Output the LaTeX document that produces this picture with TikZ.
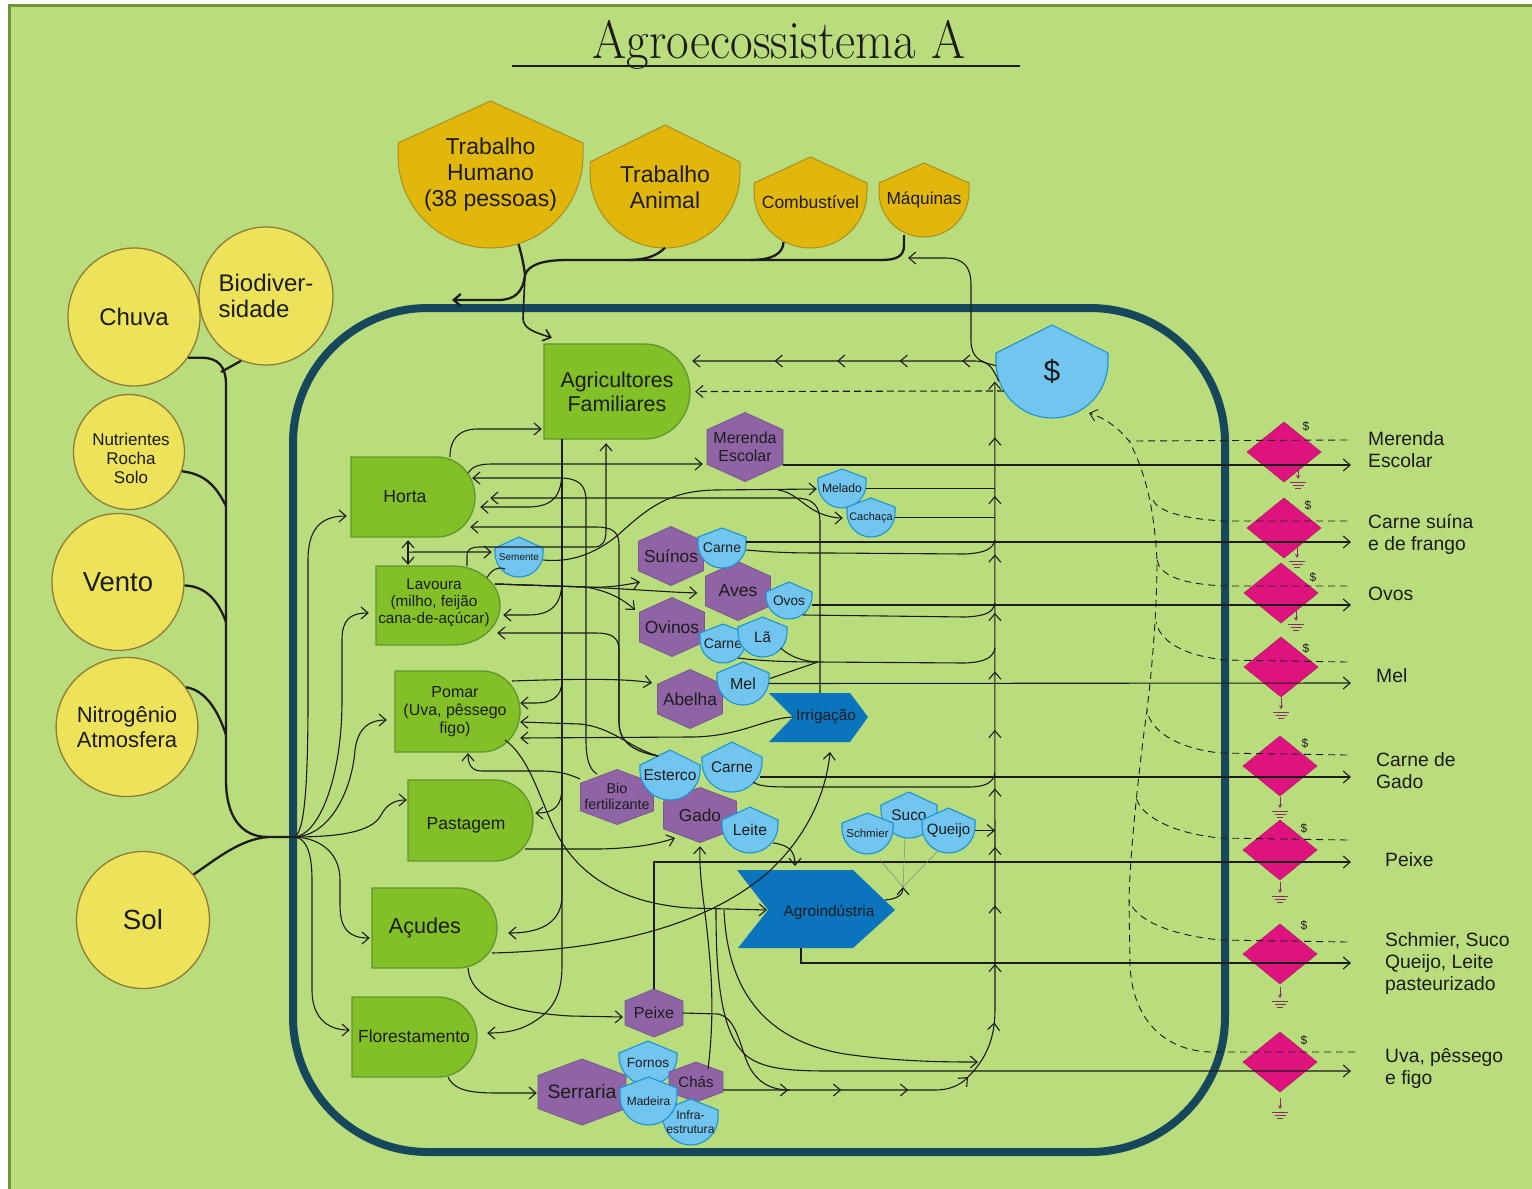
\documentclass[tikz,border=0pt]{standalone}
\usepackage{fontspec}
\setsansfont{Liberation Sans}
\usetikzlibrary{arrows.meta,shapes.geometric,decorations.markings}

\definecolor{bggreen}{HTML}{B9DC7D}
\definecolor{edgegreen}{HTML}{6F963A}
\definecolor{frameteal}{HTML}{17475A}
\definecolor{sunyellow}{HTML}{ECE35B}
\definecolor{sunedge}{HTML}{8F7B35}
\definecolor{srcfill}{HTML}{E2B70B}
\definecolor{srcedge}{HTML}{A98D20}
\definecolor{prodfill}{HTML}{83C027}
\definecolor{prodedge}{HTML}{5E962B}
\definecolor{hexfill}{HTML}{8F64A4}
\definecolor{hexedge}{HTML}{7A5592}
\definecolor{skyfill}{HTML}{72C5EF}
\definecolor{skyedge}{HTML}{1C93D3}
\definecolor{deepblue}{HTML}{0A74BD}
\definecolor{magenta2}{HTML}{DF137E}
\definecolor{groundc}{HTML}{8A2E6A}
\definecolor{ink}{HTML}{1C1C1C}

\newcommand\fs[2]{\sffamily\fontsize{#1}{#2}\selectfont}

% producer symbol: flat left side, elliptic bulge on the right
\newcommand\prodpath[5]{%
  \pgfmathsetmacro\pRx{#4-#3}%
  \pgfmathsetmacro\pRy{(#5-#2)/2}%
  \pgfmathsetmacro\pYm{(#5+#2)/2}%
  \pgfmathsetmacro\pCx{#3+0.5523*\pRx}%
  \pgfmathsetmacro\pCy{0.5523*\pRy}%
  \draw[prodst] (#1,#2) -- (#3,#2) .. controls (\pCx,#2) and (#4,\pYm-\pCy) .. (#4,\pYm)
     .. controls (#4,\pYm+\pCy) and (\pCx,#5) .. (#3,#5) -- (#1,#5) -- cycle;}

% shield symbol: pointed roof, rounded bottom
\newcommand\shieldpath[6]{%
  \pgfmathsetmacro\sXm{(#2+#3)/2}%
  \pgfmathsetmacro\sRx{(#3-#2)/2}%
  \pgfmathsetmacro\sRy{min(\sRx,#6-#5)}%
  \pgfmathsetmacro\sYc{#6-\sRy}%
  \pgfmathsetmacro\sKx{0.5523*\sRx}%
  \pgfmathsetmacro\sKy{0.5523*\sRy}%
  \draw[#1] (#2,#5) -- (\sXm,#4) -- (#3,#5) -- (#3,\sYc)
     .. controls (#3,\sYc+\sKy) and (\sXm+\sKx,#6) .. (\sXm,#6)
     .. controls (\sXm-\sKx,#6) and (#2,\sYc+\sKy) .. (#2,\sYc) -- cycle;}

% consumer hexagon (pointed top)
\newcommand\hexpath[4]{%
  \draw[hexst] (#1,#2-#4/2) -- (#1+#3/2,#2-#4/4) -- (#1+#3/2,#2+#4/4) -- (#1,#2+#4/2)
     -- (#1-#3/2,#2+#4/4) -- (#1-#3/2,#2-#4/4) -- cycle;}

% transaction diamond
\newcommand\diapath[2]{%
  \draw[diast] (#1-37,#2) -- (#1,#2-30) -- (#1+37,#2) -- (#1,#2+30) -- cycle;}

% heat sink below a transaction
\newcommand\groundat[1]{%
  \draw[groundc, line width=1pt, -{Stealth[length=4pt,width=4pt]}] (#1) -- ++(0,11);
  \draw[groundc, line width=0.9pt] ([shift={(-8,14)}]#1) -- ++(16,0)
     ([shift={(-5.5,17)}]#1) -- ++(11,0) ([shift={(-3,20)}]#1) -- ++(6,0);}

\begin{document}
\begin{tikzpicture}[x=1pt, y=-1pt,
  prodst/.style={fill=prodfill, draw=prodedge, line width=1.3pt},
  srcst/.style={fill=srcfill, draw=srcedge, line width=1pt},
  skyst/.style={fill=skyfill, draw=skyedge, line width=1.1pt},
  hexst/.style={fill=hexfill, draw=hexedge, line width=0.8pt},
  chevst/.style={fill=deepblue},
  diast/.style={fill=magenta2, draw=magenta2!75!black, line width=0.4pt},
  circst/.style={shape=ellipse, fill=sunyellow, draw=sunedge, line width=1.3pt, inner sep=0pt, align=center, text=ink},
  bx/.style 2 args={shape=rectangle, minimum width=#1, minimum height=#2, inner sep=0pt, align=center, text=ink},
  txt/.style={inner sep=0pt, align=center, text=ink},
  flow/.style={draw=ink, line width=1.1pt},
  heavy/.style={draw=ink, line width=2.3pt},
  arw/.style={-{Straight Barb[length=7pt,width=12pt]}},
  arwboth/.style={{Straight Barb[length=7pt,width=12pt]}-{Straight Barb[length=7pt,width=12pt]}},
  dash2/.style={draw=ink, line width=0.9pt, dash pattern=on 7pt off 5pt},
  hair/.style={draw=ink!55, line width=0.5pt}
]
\useasboundingbox (0,0) rectangle (1532,1189);
\fill[white] (0,0) rectangle (1532,1189);
\fill[bggreen] (8,4) rectangle (1532,1189);
\draw[edgegreen, line width=3pt] (9.5,1189) -- (9.5,5.5) -- (1532,5.5);

% title
\node[anchor=base, text=ink, inner sep=0pt, font={\rmfamily\fontsize{54}{60}\selectfont}] (title) at (779,58) {\scalebox{0.91}[1]{Agroecossistema A}};
\draw[ink, line width=2pt] (512,66) -- (1020,66);

% system boundary
\draw[frameteal, line width=8pt, rounded corners=135pt] (293,308) rectangle (1225,1152);

% ---------- external sources ----------
\node[circst, minimum width=132, minimum height=138, font={\fs{24}{27}}] (chuva) at (134,317) {Chuva};
\node[circst, minimum width=133, minimum height=138, font={\fs{24}{26}}, align=left] (biodiv) at (266,296) {Biodiver-\\sidade};
\node[circst, minimum width=111, minimum height=115] (nutr) at (129,452) {};
\node[txt, font={\fs{17}{19}}] (nutr-t) at (131,458) {Nutrientes\\Rocha\\Solo};
\node[circst, minimum width=132, minimum height=137, font={\fs{27.5}{30}}] (vento) at (118,582) {Vento};
\node[circst, minimum width=133, minimum height=139, font={\fs{22}{25}}] (nitro) at (127,727) {Nitrogênio\\Atmosfera};
\node[circst, minimum width=133, minimum height=137, font={\fs{27.7}{30}}] (sol) at (143,920) {Sol};

\shieldpath{srcst}{398}{583}{101}{143}{248}
\node[bx={185}{147}, font={\fs{23}{26}}] (th) at (490.5,174.5) {Trabalho\\Humano\\(38 pessoas)};
\shieldpath{srcst}{590}{740}{125}{162}{248}
\node[bx={150}{123}, font={\fs{23}{26}}] (ta) at (665,187) {Trabalho\\Animal};
\shieldpath{srcst}{754}{867}{157}{183}{248}
\node[bx={113}{91}, font={\fs{17.5}{20}}] (comb) at (810.5,202.5) {Combustível};
\shieldpath{srcst}{879}{969}{163}{183}{237}
\node[bx={90}{74}, font={\fs{17.3}{20}}] (maq) at (924,200) {Máquinas};

% ---------- producers ----------
\prodpath{544}{344}{645}{690}{439}
\node[bx={146}{95}] (agri) at (617,391.5) {};
\node[txt, font={\fs{21.4}{24}}] (agri-t) at (617,392) {Agricultores\\Familiares};
\prodpath{351}{457}{437}{475}{537}
\node[bx={124}{80}] (horta) at (413,497) {};
\node[txt, font={\fs{17.6}{20}}] (horta-t) at (405,497) {Horta};
\prodpath{376}{566}{453}{500}{645}
\node[bx={124}{79}] (lavoura) at (438,605.5) {};
\node[txt, font={\fs{15.3}{17}}] (lavoura-t) at (434,603) {Lavoura\\(milho, feijão\\cana-de-açúcar)};
\prodpath{395}{671}{482}{520}{752}
\node[bx={125}{81}] (pomar) at (457.5,711.5) {};
\node[txt, font={\fs{16}{18}}] (pomar-t) at (455,712) {Pomar\\(Uva, pêssego\\figo)};
\prodpath{408}{780}{495}{533}{861}
\node[bx={125}{81}] (pastagem) at (470.5,820.5) {};
\node[txt, font={\fs{17.5}{20}}] (pastagem-t) at (466,825) {Pastagem};
\prodpath{372}{888}{458}{497}{968}
\node[bx={125}{80}] (acudes) at (434.5,928) {};
\node[txt, font={\fs{21.6}{24}}] (acudes-t) at (425,928) {Açudes};
\prodpath{352}{997}{438}{477}{1077}
\node[bx={125}{80}] (flor) at (414.5,1037) {};
\node[txt, font={\fs{17.5}{20}}] (flor-t) at (414,1036) {Florestamento};

% ---------- consumers ----------
\hexpath{745}{447}{76}{69}
\node[bx={76}{69}, font={\fs{16}{18}}] (merenda) at (745,447) {Merenda\\Escolar};
\hexpath{671}{556}{65}{59}
\node[bx={65}{59}, font={\fs{17.3}{20}}] (suinos) at (671,556) {Suínos};
\hexpath{738}{591}{65}{59}
\node[bx={65}{59}, font={\fs{17.5}{20}}] (aves) at (738,591) {Aves};
\hexpath{672}{627}{65}{59}
\node[bx={65}{59}, font={\fs{17.4}{20}}] (ovinos) at (672,627) {Ovinos};
\hexpath{690}{699}{65}{59}
\node[bx={65}{59}, font={\fs{17.3}{20}}] (abelha) at (690,699) {Abelha};
\hexpath{617}{797}{73}{55}
\node[bx={73}{55}, font={\fs{14.3}{16}}] (bio) at (617,796) {Bio\\fertilizante};
\hexpath{700}{815}{73}{55}
\node[bx={73}{55}, font={\fs{17.2}{20}}] (gado) at (700,815) {Gado};
\hexpath{654}{1013}{58}{48}
\node[bx={58}{48}, font={\fs{16}{18}}] (peixe) at (654,1013) {Peixe};
\hexpath{582}{1092}{88}{66}
\node[bx={88}{66}, font={\fs{19.4}{22}}] (serraria) at (582,1092) {Serraria};

% ---------- products ----------
\shieldpath{skyst}{495}{543}{537}{548}{577}
\node[bx={48}{40}, font={\fs{10}{12}}] (semente) at (519,557) {Semente};
\shieldpath{skyst}{818}{866}{469}{478}{508}
\node[bx={48}{39}, font={\fs{12.2}{14}}] (melado) at (842,488.5) {Melado};
\shieldpath{skyst}{847}{895}{498}{507}{537}
\node[bx={48}{39}, font={\fs{11}{13}}] (cachaca) at (871,517.5) {Cachaça};
\shieldpath{skyst}{698}{746}{528}{537}{568}
\node[bx={48}{40}, font={\fs{14}{16}}] (carneS) at (722,548) {Carne};
\shieldpath{skyst}{766}{812}{582}{592}{619}
\node[bx={46}{37}, font={\fs{13.7}{16}}] (ovos) at (789,600.5) {Ovos};
\shieldpath{skyst}{700}{746}{624}{633}{663}
\node[bx={46}{39}, font={\fs{14}{16}}] (carneO) at (723,643.5) {Carne};
\shieldpath{skyst}{738}{787}{617}{627}{657}
\node[bx={49}{40}, font={\fs{15}{17}}] (la) at (762.5,637) {Lã};
\shieldpath{skyst}{717}{769}{662}{673}{705}
\node[bx={52}{43}, font={\fs{16}{18}}] (mel) at (743,683.5) {Mel};
\shieldpath{skyst}{640}{700}{750}{765}{800}
\node[bx={60}{50}, font={\fs{15.6}{18}}] (esterco) at (670,775) {Esterco};
\shieldpath{skyst}{702}{762}{742}{757}{792}
\node[bx={60}{50}, font={\fs{15.4}{18}}] (carneG) at (732,767) {Carne};
\shieldpath{skyst}{722}{778}{807}{820}{853}
\node[bx={56}{46}, font={\fs{15.7}{18}}] (leite) at (750,830) {Leite};
\shieldpath{skyst}{881}{937}{792}{805}{838}
\node[bx={56}{46}, font={\fs{15.4}{18}}] (suco) at (909,815) {Suco};
\shieldpath{skyst}{842}{893}{813}{823}{854}
\node[bx={51}{41}, font={\fs{11.5}{13}}] (schmier) at (867.5,833.5) {Schmier};
\shieldpath{skyst}{922}{975}{808}{820}{853}
\node[bx={53}{45}, font={\fs{15}{17}}] (queijo) at (948.5,830.5) {Queijo};
\shieldpath{skyst}{619}{677}{1041}{1053}{1085}
\node[bx={58}{44}, font={\fs{13.5}{16}}] (fornos) at (648,1063) {Fornos};
\hexpath{696}{1082}{54}{40}
\node[bx={54}{40}, font={\fs{15}{17}}] (chas) at (696,1082) {Chás};
\shieldpath{skyst}{663}{718}{1099}{1110}{1145}
\node[bx={55}{46}, font={\fs{12.2}{14}}] (infra) at (690.5,1122) {Infra-\\estrutura};
\shieldpath{skyst}{620}{677}{1077}{1088}{1125}
\node[bx={57}{48}, font={\fs{12}{14}}] (madeira) at (648.5,1101) {Madeira};
\shieldpath{skyst}{996}{1108}{325}{353}{418}
\node[bx={112}{93}, font={\fs{30}{32}}] (dollar) at (1052,371.5) {\$};

% ---------- processes ----------
\fill[chevst] (769,693) -- (850,693) -- (868,717) -- (850,742) -- (769,742) -- (793,717) -- cycle;
\node[bx={99}{49}] (irr) at (818.5,717.5) {};
\node[txt, font={\fs{15.4}{18}}] (irr-t) at (826,717) {Irrigação};
\fill[chevst] (737,870) -- (853,870) -- (895,910) -- (853,948) -- (738,948) -- (768,910) -- cycle;
\node[bx={158}{78}] (agro) at (816,909) {};
\node[txt, font={\fs{15.4}{18}}] (agro-t) at (829,912) {Agroindústria};

% ---------- sales ----------
\foreach \i/\cx/\cy in {1/1284/452, 2/1284/528, 3/1281/593, 4/1281/667, 5/1280/766, 6/1280/850, 7/1280/954, 8/1280/1062}{
  \diapath{\cx}{\cy}
  \node[bx={74}{60}] (dia\i) at (\cx,\cy) {};
}
\foreach \i/\lx/\ly in {1/1306/426, 2/1308/505, 3/1313/577, 4/1306/648, 5/1305/743, 6/1304/828, 7/1304/925, 8/1304/1040}{
  \node[txt, font={\fs{12}{13}}] (dl\i) at (\lx,\ly) {\$};
}
\coordinate (g1) at ([shift={(14,16)}]dia1.center);
\coordinate (g2) at ([shift={(13,19)}]dia2.center);
\coordinate (g3) at ([shift={(15,17)}]dia3.center);
\coordinate (g4) at ([shift={(0,1)}]dia4.south);
\coordinate (g5) at ([shift={(0,1)}]dia5.south);
\coordinate (g6) at ([shift={(0,2)}]dia6.south);
\coordinate (g7) at ([shift={(0,3)}]dia7.south);
\coordinate (g8) at ([shift={(0,6)}]dia8.south);
\foreach \g in {g1,g2,g3,g4,g5,g6,g7,g8}{\groundat{\g}}

\node[txt, anchor=west, align=left, font={\fs{19.3}{22}}] (lab1) at (1368,450) {Merenda\\Escolar};
\node[txt, anchor=west, align=left, font={\fs{19.3}{22}}] (lab2) at (1368,534) {Carne suína\\e de frango};
\node[txt, anchor=west, align=left, font={\fs{19.3}{22}}] (lab3) at (1368,594) {Ovos};
\node[txt, anchor=west, align=left, font={\fs{19.3}{22}}] (lab4) at (1376,676) {Mel};
\node[txt, anchor=west, align=left, font={\fs{19.3}{22}}] (lab5) at (1376,771) {Carne de\\Gado};
\node[txt, anchor=west, align=left, font={\fs{19.3}{22}}] (lab6) at (1385,860) {Peixe};
\node[txt, anchor=west, align=left, font={\fs{19.3}{22}}] (lab7) at (1385,963) {Schmier, Suco\\Queijo, Leite\\pasteurizado};
\node[txt, anchor=west, align=left, font={\fs{19.3}{22}}] (lab8) at (1385,1068) {Uva, pêssego\\e figo};

% ---------- junction points ----------
\coordinate (J) at (293,837);
\coordinate (srcj) at (525,275);
\coordinate (lossL) at (452,300);
\coordinate (maqIn) at (908,258);
\coordinate (colx) at (995,0);
\coordinate (chasTurn) at (968,1077);
\coordinate (chasMid) at (790,1090);
\coordinate (colIn) at (978,1062);
\coordinate (pjunc) at (903,887);
\coordinate (mbr) at (778,490);
\coordinate (ovM) at (818,662);
\coordinate (pomX) at (716,909);
\coordinate (pomX2) at (724,910);
\foreach \i/\yy in {1/465, 2/542, 3/605, 4/683, 5/777, 6/862, 7/963, 8/1071}{\coordinate (ex\i) at (1351,\yy);}
\coordinate (sp1) at (1129,441);
\coordinate (sp2) at (1153,500);
\coordinate (sp3) at (1157,560);
\coordinate (sp4) at (1156,622);
\coordinate (sp5) at (1147,710);
\coordinate (sp6) at (1136,797);
\coordinate (sp7) at (1129,900);

% ---------- energy from the environment ----------
\draw[heavy] (chuva.-37) -- ++(14,0) .. controls (218,358) and (226,366) .. (226,385) -- (226,780) .. controls (226,815) and (240,837) .. (268,837) -- (J);
\draw[heavy] (biodiv.-111) -- (221,372);
\draw[heavy] (nutr.-20) .. controls (205,474) and (216,486) .. (226,506);
\draw[heavy] (vento.-3) .. controls (205,586) and (218,600) .. (226,622);
\draw[heavy] (nitro.34) .. controls (205,690) and (218,710) .. (226,735);
\draw[heavy] (sol.42) .. controls (215,860) and (240,839) .. (268,837);

\draw[flow, arw] (J) .. controls (303,837) and (308,800) .. (308,700) -- (308,560) .. controls (308,530) and (320,516) .. ([shift={(-4,19)}]horta.west);
\draw[flow, arw] (J) .. controls (318,837) and (342,780) .. (342,700) -- (342,640) .. controls (342,620) and (350,613) .. ([shift={(-7,7.5)}]lavoura.west);
\draw[flow, arw] (J) .. controls (330,837) and (352,790) .. (355,750) .. controls (358,727) and (370,720) .. ([shift={(-8,8.5)}]pomar.west);
\draw[flow, arw] (J) .. controls (335,837) and (372,833) .. (381,815) .. controls (387,804) and (395,800) .. ([shift={(-1,-20.5)}]pastagem.west);
\draw[flow, arw] (J) .. controls (316,837) and (340,850) .. (340,880) -- (340,905) .. controls (340,930) and (350,938) .. ([shift={(-2,10)}]acudes.west);
\draw[flow, arw] (J) .. controls (305,837) and (312,850) .. (312,880) -- (312,990) .. controls (312,1015) and (325,1030) .. ([shift={(-2,-7)}]flor.west);

% ---------- purchased inputs ----------
\draw[heavy] ([shift={(-20,-2)}]maq.south) -- ++(0,10) .. controls (904,257) and (896,260) .. (880,260) -- (567,260) .. controls (540,260) and (528,266) .. (srcj);
\draw[heavy] ([shift={(28,-4)}]th.south) .. controls (522,256) and (524,266) .. (srcj);
\draw[heavy] ([shift={(0,-1)}]ta.south) .. controls (657,256) and (645,260) .. (628,260);
\draw[heavy] ([shift={(-27,-6)}]comb.south) .. controls (783,254) and (772,260) .. (750,260);
\draw[flow, line width=1.6pt, arw] (srcj) -- (523,318) .. controls (523,330) and (538,333) .. ([shift={(8,-6)}]agri.north west);
\draw[heavy, arw] (srcj) .. controls (523,292) and (515,300) .. (498,300) -- (lossL);

% money paths
\draw[flow, arw] ([shift={(0,-6)}]dollar.west) .. controls (978,362) and (971,356) .. (971,340) -- (971,285) .. controls (971,266) and (963,258) .. (945,258) -- (maqIn);
\draw[flow, arw, postaction={decorate}, decoration={markings, mark=between positions 47pt and 240pt step 62.5pt with {\arrow{Straight Barb[length=7pt,width=12pt]}}}]
  ([shift={(3,10)}]dollar.west) .. controls (992,366) and (988,361) .. (975,361) -- ([shift={(2,-30.5)}]agri.east);
\draw[flow, dash pattern=on 7pt off 4pt, arw] ([shift={(8,19.5)}]dollar.west) -- ([shift={(5,0)}]agri.east);

% ---------- internal flows ----------
% farmers feed every subsystem
\draw[flow, arw] ([shift={(-55,0)}]agri.south) -- (562,965) .. controls (562,990) and (556,1008) .. (535,1021) .. controls (520,1031) and (505,1033) .. ([shift={(10,-4)}]flor.east);
\draw[flow, arw] ([shift={(-55,0)}]agri.south) -- (562,470) .. controls (562,497) and (552,506) .. (530,507) -- ([shift={(5,10)}]horta.east);
\draw[flow, arw] ([shift={(-55,0)}]agri.south) -- (562,580) .. controls (562,606) and (550,615) .. (528,615) -- ([shift={(3,9.5)}]lavoura.east);
\draw[flow, arw] ([shift={(-55,0)}]agri.south) -- (562,680) .. controls (562,697) and (552,703) .. (535,703) -- ([shift={(0,-8.5)}]pomar.east);
\draw[flow, arw] ([shift={(-55,0)}]agri.south) -- (562,785) .. controls (562,805) and (556,813) .. ([shift={(2,-7.5)}]pastagem.east);
\draw[flow, arw] ([shift={(-55,0)}]agri.south) -- (562,895) .. controls (562,920) and (545,933) .. ([shift={(11,5)}]acudes.east);

% horta and lavoura
\draw[flow, arw] ([shift={(37,0)}]horta.north) .. controls (450,440) and (458,429) .. (478,429) -- ([shift={(-2,37.5)}]agri.west);
\draw[flow, arw] ([shift={(55,-24)}]horta.center) .. controls (472,467) and (478,464) .. (492,464) -- ([shift={(-4,17)}]merenda.west);
\draw[flow, arwboth] ([shift={(-5,3)}]horta.south) -- ([shift={(-30,-1)}]lavoura.north);
\draw[flow, arw] ([shift={(-5,15)}]horta.south) .. controls (410,552) and (415,552) .. (425,552) -- ([shift={(-3,-5)}]semente.west);
\draw[flow] ([shift={(49,-28)}]lavoura.center) .. controls (492,570) and (497,566) .. ([shift={(-14,12)}]semente.center);
\draw[flow, arw] ([shift={(0,3)}]semente.east) .. controls (565,562) and (590,558) .. (618,535) .. controls (648,508) and (668,491) .. (715,490) -- ([shift={(-1,0.5)}]melado.west);
\draw[flow, arw] (mbr) .. controls (795,492) and (805,508) .. (822,514) .. controls (830,517) and (836,518) .. ([shift={(-4,0.5)}]cachaca.west);
\draw[flow, arw] ([shift={(29,-39.5)}]lavoura.center) -- (467,556) .. controls (467,549) and (471,547) .. (480,547) -- (594,547) .. controls (603,547) and (606,541) .. (606,530) -- ([shift={(-11,4)}]agri.south);
\draw[flow, arw] ([shift={(57,-21.5)}]lavoura.center) -- (585,587) .. controls (610,588) and (625,585) .. ([shift={(-31,26)}]suinos.center);
\draw[flow, arw] ([shift={(57,-21.5)}]lavoura.center) -- (585,587) .. controls (630,589) and (665,592) .. ([shift={(-8,2)}]aves.west);
\draw[flow, arw] ([shift={(57,-21.5)}]lavoura.center) -- (585,587) .. controls (605,590) and (622,598) .. ([shift={(-37,-17)}]ovinos.center);

% recycling of manure and biofertiliser
\draw[flow, arw] ([shift={(-20,-22)}]bio.center) .. controls (590,770) and (586,760) .. (586,740) -- (586,500) .. controls (586,485) and (578,478) .. (560,478) -- ([shift={(-3,-19)}]horta.east);
\draw[flow, arw] ([shift={(-37,-17)}]bio.center) .. controls (567,773) and (557,771) .. (540,771) -- (482,771) .. controls (472,771) and (468,765) .. ([shift={(10.5,1)}]pomar.south);
\draw[flow, arw] ([shift={(-12,-19)}]esterco.center) .. controls (638,752) and (619,745) .. (619,722) -- (619,545) .. controls (619,531) and (611,527) .. (596,527) -- ([shift={(-5,30)}]horta.east);
\draw[flow, arw] ([shift={(-12,-19)}]esterco.center) .. controls (638,752) and (619,745) .. (619,722) -- (619,650) .. controls (619,637) and (611,633) .. (596,633) -- ([shift={(-3,27.5)}]lavoura.east);
\draw[flow, arw] ([shift={(-12,-19)}]esterco.center) .. controls (630,748) and (612,727) .. (580,724) -- ([shift={(0,10.5)}]pomar.east);

% water
\draw[flow, arw] ([shift={(1.5,-24.5)}]irr.center) -- (820,522) .. controls (820,505) and (812,498) .. (795,498) -- ([shift={(15,1)}]horta.east);
\draw[flow, arw] ([shift={(-25.5,-0.5)}]irr.center) .. controls (765,718) and (740,737) .. (690,737) -- ([shift={(0,26.5)}]pomar.east);
\draw[flow, arw] ([shift={(57.5,25)}]acudes.center) .. controls (610,950) and (705,925) .. (765,875) .. controls (805,840) and (826,795) .. ([shift={(11.5,34.5)}]irr.center);
\draw[flow, arw] ([shift={(33.5,40)}]acudes.center) .. controls (470,997) and (505,1012) .. (570,1016) -- ([shift={(-31,4)}]peixe.center);

% orchard, pasture, forest
\draw[flow, arw] ([shift={(54.5,-30.5)}]pomar.center) .. controls (570,679) and (625,678) .. ([shift={(-38,-16)}]abelha.center);
\draw[flow, arw] ([shift={(47.5,28.5)}]pomar.center) .. controls (530,758) and (540,800) .. (556,832) .. controls (575,870) and (615,903) .. (690,908) -- ([shift={(-49,1)}]agro.center);
\draw[flow, arw] (pomX) .. controls (716,975) and (720,1035) .. (748,1057) .. controls (765,1069) and (790,1071) .. (830,1071) -- (ex8);
\draw[flow, arw] (pomX2) .. controls (727,985) and (760,1040) .. (845,1054) .. controls (900,1062) and (950,1062) .. (colIn);
\draw[flow, arw] ([shift={(54.5,28.5)}]pastagem.center) -- (600,849) .. controls (640,848) and (660,843) .. ([shift={(-25,23)}]gado.center);
\draw[flow, arw] ([shift={(33.5,40)}]flor.center) .. controls (455,1092) and (475,1093) .. (500,1093) -- ([shift={(-1,1)}]serraria.west);
\draw[flow, arw] ([shift={(12,-13)}]chas.center) .. controls (713,1030) and (713,990) .. (709,950) .. controls (705,905) and (699,880) .. ([shift={(0,3.5)}]gado.south);

% fish, dairy and agroindustry
\draw[flow, arw] (peixe.north) -- (654,862) -- (ex6);
\draw[flow] (peixe.east) -- (718,1014) .. controls (738,1018) and (740,1050) .. (750,1068) .. controls (758,1082) and (770,1090) .. (chasMid);
\draw[flow, arw] ([shift={(23,13)}]leite.center) .. controls (790,845) and (795,852) .. ([shift={(-21,-43)}]agro.center);
\draw[flow, arw] ([shift={(69,-9)}]agro.center) .. controls (897,899) and (903,895) .. (pjunc);
\draw[hair] ([shift={(12.5,26.5)}]schmier.center) -- (pjunc);
\draw[hair] ([shift={(-4,23)}]suco.center) -- (pjunc);
\draw[hair] ([shift={(-11.5,21.5)}]queijo.center) -- (pjunc);
\draw[flow, arw] (queijo.east) -- (queijo.east -| colx);
\draw[flow, arw] ([shift={(-15,39)}]agro.center) -- (801,963) -- (ex7);

% products to the market and to the money collector
\draw[flow, arw] ([shift={(0,18)}]merenda.east) -- (ex1);
\draw[flow] (melado.east) -- (melado.east -| colx);
\draw[flow] (cachaca.east) -- (cachaca.east -| colx);
\draw[flow, arw] ([shift={(0,-6)}]carneS.east) -- (ex2);
\draw[flow] ([shift={(0,2)}]carneS.east) .. controls (780,553) and (800,553) .. (830,553) -- (965,554) .. controls (985,553) and (993,549) .. ([shift={(0,540)}]colx);
\draw[flow, arw] ([shift={(0,4.5)}]ovos.east) -- (ex3);
\draw[flow] ([shift={(-9,14.5)}]ovos.east) -- (965,617) .. controls (985,616) and (993,613) .. ([shift={(0,603)}]colx);
\draw[flow] ([shift={(18,11)}]la.center) .. controls (790,656) and (800,661) .. (ovM);
\draw[flow] ([shift={(27,-5)}]mel.center) -- (ovM);
\draw[flow] ([shift={(15,14.5)}]carneO.center) .. controls (760,661) and (790,662) .. (ovM) -- (965,663) .. controls (985,662) and (993,658) .. ([shift={(0,648)}]colx);
\draw[flow, arw] (mel.east) -- (ex4);
\draw[flow, arw] ([shift={(-2,10)}]carneG.east) -- (ex5);
\draw[flow] ([shift={(21,15)}]carneG.center) .. controls (760,787) and (772,787) .. (800,787) -- (968,787) .. controls (985,787) and (993,783) .. ([shift={(0,773)}]colx);

% sawmill / teas line and the money collector
\draw[flow, arw, postaction={decorate}, decoration={markings,
    mark=at position 65pt with {\arrow{Straight Barb[length=7pt,width=12pt]}},
    mark=at position 118pt with {\arrow{Straight Barb[length=7pt,width=12pt]}},
    mark=at position 185pt with {\arrow{Straight Barb[length=7pt,width=12pt]}}}]
  ([shift={(0,8)}]chas.east) -- (935,1090) .. controls (950,1090) and (960,1085) .. (chasTurn);
\draw[flow, arw, postaction={decorate}, decoration={markings, mark=between positions 62pt and 690pt step 58.5pt with {\arrow{Straight Barb[length=7pt,width=12pt]}}}]
  (chasTurn) .. controls (985,1060) and (995,1040) .. (995,1010) -- ([shift={(-1,10)}]dollar.west);

% money received from sales
\draw[dash2, arw] ([shift={(75,-10)}]dia8.center) -- (1210,1052) .. controls (1160,1050) and (1132,1015) .. (1130,965) -- (sp7) .. controls (1130,850) and (1140,760) .. (sp5) .. controls (1152,670) and (1157,610) .. (sp3) .. controls (1155,525) and (1150,480) .. (sp1) .. controls (1116,425) and (1102,417) .. ([shift={(37,41.5)}]dollar.center);
\draw[dash2] ([shift={(63,-12)}]dia1.center) -- (sp1);
\draw[dash2] ([shift={(63,-7)}]dia2.center) -- (1225,521) .. controls (1180,519) and (1157,510) .. (sp2);
\draw[dash2] ([shift={(66,-7)}]dia3.center) -- (1225,586) .. controls (1180,584) and (1160,575) .. (sp3);
\draw[dash2] ([shift={(66,-5)}]dia4.center) -- (1225,660) .. controls (1180,655) and (1160,640) .. (sp4);
\draw[dash2] ([shift={(67,-11)}]dia5.center) -- (1220,753) .. controls (1175,748) and (1150,730) .. (sp5);
\draw[dash2] ([shift={(67,-10)}]dia6.center) -- (1220,838) .. controls (1170,833) and (1140,815) .. (sp6);
\draw[dash2] ([shift={(67,-12)}]dia7.center) -- (1220,940) .. controls (1170,935) and (1135,920) .. (sp7);
\end{tikzpicture}
\end{document}
